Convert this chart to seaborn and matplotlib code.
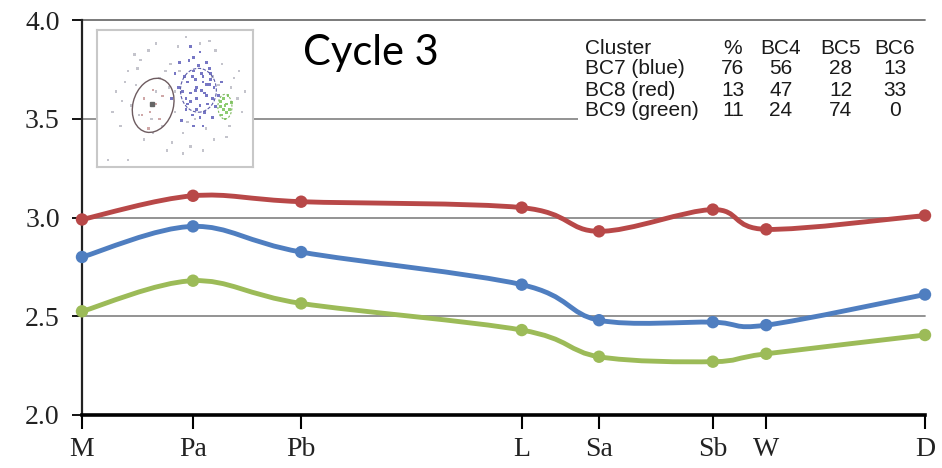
import numpy as np
import pandas as pd
import matplotlib
matplotlib.use("Agg")
import matplotlib.pyplot as plt
import seaborn as sns
from matplotlib.path import Path
from matplotlib.patches import PathPatch, Ellipse, Rectangle

# ---------------- data ----------------
stages = ["M", "Pa", "Pb", "L", "Sa", "Sb", "W", "D"]
stage_pos = [0.0, 3.95, 7.8, 15.65, 18.4, 22.45, 24.35, 30.0]
bc8_red = [2.99, 3.11, 3.08, 3.05, 2.93, 3.04, 2.94, 3.01]
bc7_blue = [2.80, 2.955, 2.825, 2.66, 2.48, 2.47, 2.455, 2.61]
bc9_green = [2.525, 2.68, 2.565, 2.43, 2.295, 2.27, 2.31, 2.405]
yticks = [2.0, 2.5, 3.0, 3.5, 4.0]
gridlines = [2.5, 3.0, 3.5, 4.0]

table_header = ["Cluster", "%", "BC4", "BC5", "BC6"]
table_rows = [
    ["BC7 (blue)", "76", "56", "28", "13"],
    ["BC8 (red)", "13", "47", "12", "33"],
    ["BC9 (green)", "11", "24", "74", "0"],
]
title_text = "Cycle 3"

# inset thumbnail (scatter of cluster members, axes fraction units)
grey_x = [0.12, 0.15, 0.20, 0.22, 0.25, 0.28, 0.30, 0.33, 0.38, 0.40, 0.42, 0.45, 0.47, 0.50,
          0.52, 0.55, 0.57, 0.60, 0.62, 0.66, 0.70, 0.72, 0.75, 0.78, 0.80, 0.85, 0.88, 0.90,
          0.93, 0.07, 0.20, 0.35, 0.30, 0.38, 0.27, 0.50, 0.55, 0.68, 0.95, 0.18, 0.44, 0.58,
          0.83, 0.76, 0.36, 0.24, 0.63, 0.48, 0.10, 0.16, 0.26, 0.46, 0.53, 0.86, 0.91, 0.74]
grey_y = [0.55, 0.30, 0.70, 0.45, 0.60, 0.78, 0.20, 0.85, 0.90, 0.65, 0.30, 0.12, 0.75, 0.55,
          0.88, 0.25, 0.95, 0.15, 0.80, 0.90, 0.28, 0.92, 0.20, 0.60, 0.75, 0.30, 0.65, 0.50,
          0.40, 0.05, 0.05, 0.35, 0.50, 0.55, 0.38, 0.40, 0.10, 0.12, 0.55, 0.62, 0.70, 0.33,
          0.22, 0.85, 0.25, 0.82, 0.35, 0.18, 0.40, 0.48, 0.72, 0.58, 0.70, 0.58, 0.70, 0.66]
blue_x = [0.55, 0.58, 0.60, 0.62, 0.64, 0.66, 0.68, 0.70, 0.72, 0.74, 0.57, 0.61, 0.65, 0.69,
          0.73, 0.59, 0.63, 0.67, 0.71, 0.75, 0.56, 0.60, 0.64, 0.68, 0.72, 0.58, 0.62, 0.66,
          0.70, 0.76, 0.52, 0.50, 0.78, 0.54, 0.62, 0.68, 0.48, 0.80, 0.66, 0.60, 0.74, 0.53,
          0.64, 0.70, 0.57, 0.63, 0.69, 0.61, 0.67, 0.73]
blue_y = [0.55, 0.62, 0.48, 0.70, 0.58, 0.45, 0.66, 0.52, 0.60, 0.50, 0.42, 0.38, 0.74, 0.40,
          0.68, 0.78, 0.64, 0.56, 0.46, 0.58, 0.66, 0.54, 0.50, 0.62, 0.72, 0.46, 0.80, 0.36,
          0.76, 0.44, 0.58, 0.68, 0.52, 0.34, 0.30, 0.30, 0.50, 0.62, 0.84, 0.88, 0.36, 0.76,
          0.42, 0.60, 0.50, 0.56, 0.54, 0.66, 0.68, 0.64]
green_x = [0.79, 0.81, 0.83, 0.85, 0.80, 0.82, 0.84, 0.81, 0.83, 0.86, 0.79, 0.82]
green_y = [0.44, 0.50, 0.46, 0.42, 0.38, 0.35, 0.52, 0.42, 0.40, 0.47, 0.48, 0.45]
red_x = [0.30, 0.34, 0.38, 0.40, 0.33, 0.36, 0.42, 0.29]
red_y = [0.50, 0.40, 0.46, 0.35, 0.28, 0.56, 0.52, 0.38]

C_RED = "#B84848"
C_BLUE = "#4F7EC0"
C_GREEN = "#9CBB58"

# ---------------- figure ----------------
sns.set_style("white")
plt.rcParams["font.family"] = ["Liberation Serif", "DejaVu Serif"]

W, H = 942, 468
fig = plt.figure(figsize=(W / 100, H / 100), dpi=100)


def frac(px_l, px_t, px_r, px_b):
    return [px_l / W, 1 - px_b / H, (px_r - px_l) / W, (px_b - px_t) / H]


ax = fig.add_axes(frac(82, 20, 925, 415))
ax.set_xlim(stage_pos[0], stage_pos[-1])
ax.set_ylim(2.0, 4.0)

for g in gridlines:
    ax.axhline(g, color="#8a8a8a" if g < 4 else "#6f6f6f", lw=1.3, zorder=0.5, clip_on=False)

df = pd.DataFrame({
    "x": stage_pos * 3,
    "y": bc8_red + bc7_blue + bc9_green,
    "series": ["BC8"] * 8 + ["BC7"] * 8 + ["BC9"] * 8,
})
palette = {"BC8": C_RED, "BC7": C_BLUE, "BC9": C_GREEN}


def smooth_path(xs, ys):
    pts = np.column_stack([xs, ys])
    n = len(pts)
    verts = [pts[0]]
    codes = [Path.MOVETO]
    for i in range(n - 1):
        p0 = pts[i - 1] if i > 0 else pts[i]
        p1 = pts[i]
        p2 = pts[i + 1]
        p3 = pts[i + 2] if i + 2 < n else pts[i + 1]
        c1 = p1 + (p2 - p0) / 6.0
        c2 = p2 - (p3 - p1) / 6.0
        verts += [c1, c2, p2]
        codes += [Path.CURVE4] * 3
    return Path(verts, codes)


for name, ys in [("BC8", bc8_red), ("BC7", bc7_blue), ("BC9", bc9_green)]:
    patch = PathPatch(smooth_path(stage_pos, ys), facecolor="none",
                      edgecolor=palette[name], lw=3.5, zorder=3, clip_on=False,
                      capstyle="round", joinstyle="round")
    ax.add_patch(patch)

sns.scatterplot(data=df, x="x", y="y", hue="series", palette=palette, s=80,
                edgecolor="none", legend=False, ax=ax, zorder=4, clip_on=False)

ax.set_xticks(stage_pos)
ax.set_xticklabels(stages)
ax.set_yticks(yticks)
ax.set_yticklabels([f"{v:.1f}" for v in yticks])
ax.set_xlabel("")
ax.set_ylabel("")
ax.tick_params(axis="x", direction="out", length=10, width=1.5, color="black",
               labelsize=20, pad=6, bottom=True)
ax.tick_params(axis="y", direction="out", length=7, width=1.3, color="black",
               labelsize=20, pad=9, left=True)
for lab in ax.get_xticklabels() + ax.get_yticklabels():
    lab.set_color("#222222")

for s in ["top", "right"]:
    ax.spines[s].set_visible(False)
ax.spines["left"].set_color("#222222")
ax.spines["left"].set_linewidth(1.6)
ax.spines["bottom"].set_color("black")
ax.spines["bottom"].set_linewidth(2.6)

# white box behind the table (hides grid line)
fig.patches.append(Rectangle((578 / W, 1 - 126 / H), (940 - 578) / W, (126 - 28) / H,
                             transform=fig.transFigure, facecolor="white",
                             edgecolor="none", zorder=2))

# table
col_x = [585, 733, 781, 841, 895]
row_y = [48, 69, 90, 111]
tfont = dict(family=["Liberation Sans", "DejaVu Sans"], fontsize=15, color="#1a1a1a", zorder=5)
for r, row in enumerate([table_header] + table_rows):
    for c, txt in enumerate(row):
        ha = "left" if c == 0 else "center"
        fig.text(col_x[c] / W, 1 - row_y[r] / H, txt, ha=ha, va="center", **tfont)

fig.text(303 / W, 1 - 53 / H, title_text, ha="left", va="center",
         family=["Lato", "DejaVu Sans"], fontsize=30, color="black", zorder=5)

# inset thumbnail
iax = fig.add_axes(frac(97, 30, 253, 167), zorder=3)
iax.set_xlim(0, 1)
iax.set_ylim(0, 1)
iax.set_xticks([])
iax.set_yticks([])
iax.set_facecolor("white")
for s in iax.spines.values():
    s.set_color("#c8c8c8")
    s.set_linewidth(1.5)
sns.scatterplot(x=grey_x, y=grey_y, color="#c4c4cc", s=3, marker="s", edgecolor="none", ax=iax, legend=False)
sns.scatterplot(x=red_x, y=red_y, color="#d0a8a8", s=3, marker="s", edgecolor="none", ax=iax, legend=False)
sns.scatterplot(x=blue_x, y=blue_y, color="#7777c4", s=4, marker="s", edgecolor="none", ax=iax, legend=False)
sns.scatterplot(x=green_x, y=green_y, color="#8ccc70", s=4, marker="s", edgecolor="none", ax=iax, legend=False)
iax.add_patch(Ellipse((0.36, 0.45), 0.26, 0.40, angle=-12, facecolor="none",
                      edgecolor="#6e5c60", lw=1.0))
iax.plot([0.355], [0.46], marker="s", ms=2.2, color="#666666")
iax.add_patch(Ellipse((0.65, 0.56), 0.23, 0.32, angle=0, facecolor="none",
                      edgecolor="#5a5aa8", lw=0.8, ls=(0, (3, 1.5))))
iax.add_patch(Ellipse((0.82, 0.44), 0.09, 0.18, angle=0, facecolor="none",
                      edgecolor="#80b860", lw=0.8, ls=(0, (2, 1.5))))

fig.savefig("out.png", dpi=100, facecolor="white")
